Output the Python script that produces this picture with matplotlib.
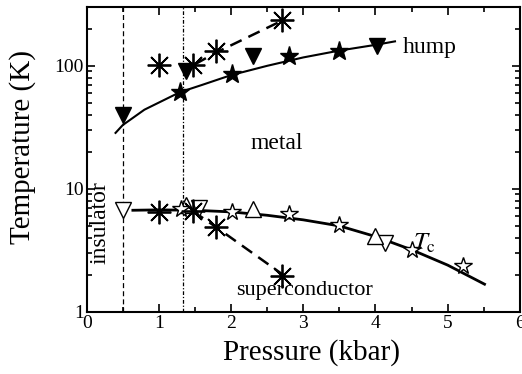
import numpy as np
import matplotlib
matplotlib.use('Agg')
import matplotlib.pyplot as plt
from matplotlib.ticker import MultipleLocator, LogLocator, NullFormatter, FixedLocator, FixedFormatter

plt.rcParams['font.family'] = ['Liberation Serif', 'DejaVu Serif']
plt.rcParams['mathtext.fontset'] = 'stix'

# upper branch (hump)
hump_tri_p = [0.51, 1.38, 2.30, 4.02]
hump_tri_t = [40, 91, 120, 146]
hump_star_p = [1.29, 2.01, 2.80, 3.50]
hump_star_t = [61, 86, 120, 133]
hump_ast_p = [1.00, 1.47, 1.79, 2.70]
hump_ast_t = [102, 102, 133, 234]
hump_fit_p = [0.40, 0.50, 0.80, 1.29, 1.60, 2.00, 2.50, 3.00, 3.50, 4.00, 4.27]
hump_fit_t = [28.5, 33, 44, 61, 70, 84, 100, 117, 133, 148, 158]
hump_dash_p = [1.50, 1.79, 2.72]
hump_dash_t = [103, 128, 235]

# lower branch (Tc)
tc_dtri_p = [0.50, 1.56, 4.13]
tc_dtri_t = [6.7, 7.0, 3.6]
tc_utri_p = [1.38, 2.30, 4.00]
tc_utri_t = [7.4, 6.85, 4.12]
tc_star_p = [1.30, 2.01, 2.80, 3.50, 4.50, 5.21]
tc_star_t = [6.9, 6.5, 6.2, 5.07, 3.16, 2.34]
tc_ast_p = [1.00, 1.47, 1.79, 2.70]
tc_ast_t = [6.5, 6.6, 4.9, 1.97]
tc_fit_p = [0.64, 1.00, 1.50, 2.00, 2.50, 3.00, 3.50, 4.00, 4.50, 5.00, 5.51]
tc_fit_t = [6.7, 6.75, 6.7, 6.5, 6.1, 5.6, 5.0, 4.1, 3.2, 2.4, 1.68]
tc_dash_p = [1.47, 1.79, 2.78]
tc_dash_t = [6.6, 4.9, 1.89]

boundary_p = [0.50, 1.34]

fig = plt.figure(figsize=(5.22, 3.74), dpi=100)
ax = fig.add_axes([0.166, 0.166, 0.830, 0.815])
ax.set_yscale('log')
ax.set_xlim(0, 6)
ax.set_ylim(1, 300)

ast = (8, 2, 0)

ax.axvline(boundary_p[0], color='k', lw=0.9, ls=(0, (4, 2.5)))
ax.axvline(boundary_p[1], color='k', lw=0.9, ls=(0, (3, 1.5, 1, 1.5)))

ax.plot(hump_fit_p, hump_fit_t, 'k-', lw=1.5)
ax.plot(hump_dash_p, hump_dash_t, 'k--', lw=1.8, dashes=(5, 3))
ax.plot(tc_fit_p, tc_fit_t, 'k-', lw=2)
ax.plot(tc_dash_p, tc_dash_t, 'k--', lw=1.8, dashes=(5, 3))

ax.plot(hump_tri_p, hump_tri_t, 'kv', ms=12, ls='none')
ax.plot(hump_star_p, hump_star_t, 'k*', ms=14, ls='none')
ax.plot(hump_ast_p, hump_ast_t, marker=ast, color='k', ms=17, mew=1.3, ls='none')

ax.plot(tc_dtri_p, tc_dtri_t, 'v', mfc='white', mec='k', ms=12, mew=1, ls='none')
ax.plot(tc_utri_p, tc_utri_t, '^', mfc='white', mec='k', ms=12, mew=1, ls='none')
ax.plot(tc_star_p, tc_star_t, '*', mfc='white', mec='k', ms=13, mew=1, ls='none')
ax.plot(tc_ast_p, tc_ast_t, marker=ast, color='k', ms=17, mew=1.3, ls='none')

ax.text(4.38, 142, 'hump', fontsize=17, va='center', ha='left')
ax.text(2.63, 23.5, 'metal', fontsize=17, va='center', ha='center')
ax.text(0.18, 5.3, 'insulator', fontsize=17, rotation=90, va='center', ha='center')
ax.text(3.02, 1.5, 'superconductor', fontsize=16, va='center', ha='center')
ax.text(4.52, 2.9, r'$T_{\mathrm{c}}$', fontsize=18, va='bottom', ha='left')

ax.set_xlabel('Pressure (kbar)', fontsize=21)
ax.set_ylabel('Temperature (K)', fontsize=21)
ax.xaxis.set_label_coords(0.52, -0.088)
ax.yaxis.set_label_coords(-0.117, 0.54)

ax.xaxis.set_major_locator(MultipleLocator(1))
ax.xaxis.set_minor_locator(MultipleLocator(0.5))
ax.yaxis.set_major_locator(FixedLocator([1, 10, 100]))
ax.yaxis.set_major_formatter(FixedFormatter(['1', '10', '100']))
ax.yaxis.set_minor_locator(LogLocator(base=10, subs=np.arange(2, 10)))
ax.yaxis.set_minor_formatter(NullFormatter())
ax.tick_params(which='both', direction='in', top=True, right=True, labelsize=14, width=1.2)
ax.tick_params(which='major', length=6)
ax.tick_params(which='minor', length=3.5)
ax.tick_params(axis='x', pad=2)
ax.tick_params(axis='y', pad=2)
for s in ax.spines.values():
    s.set_linewidth(1.5)

fig.savefig('out.png', dpi=100)
